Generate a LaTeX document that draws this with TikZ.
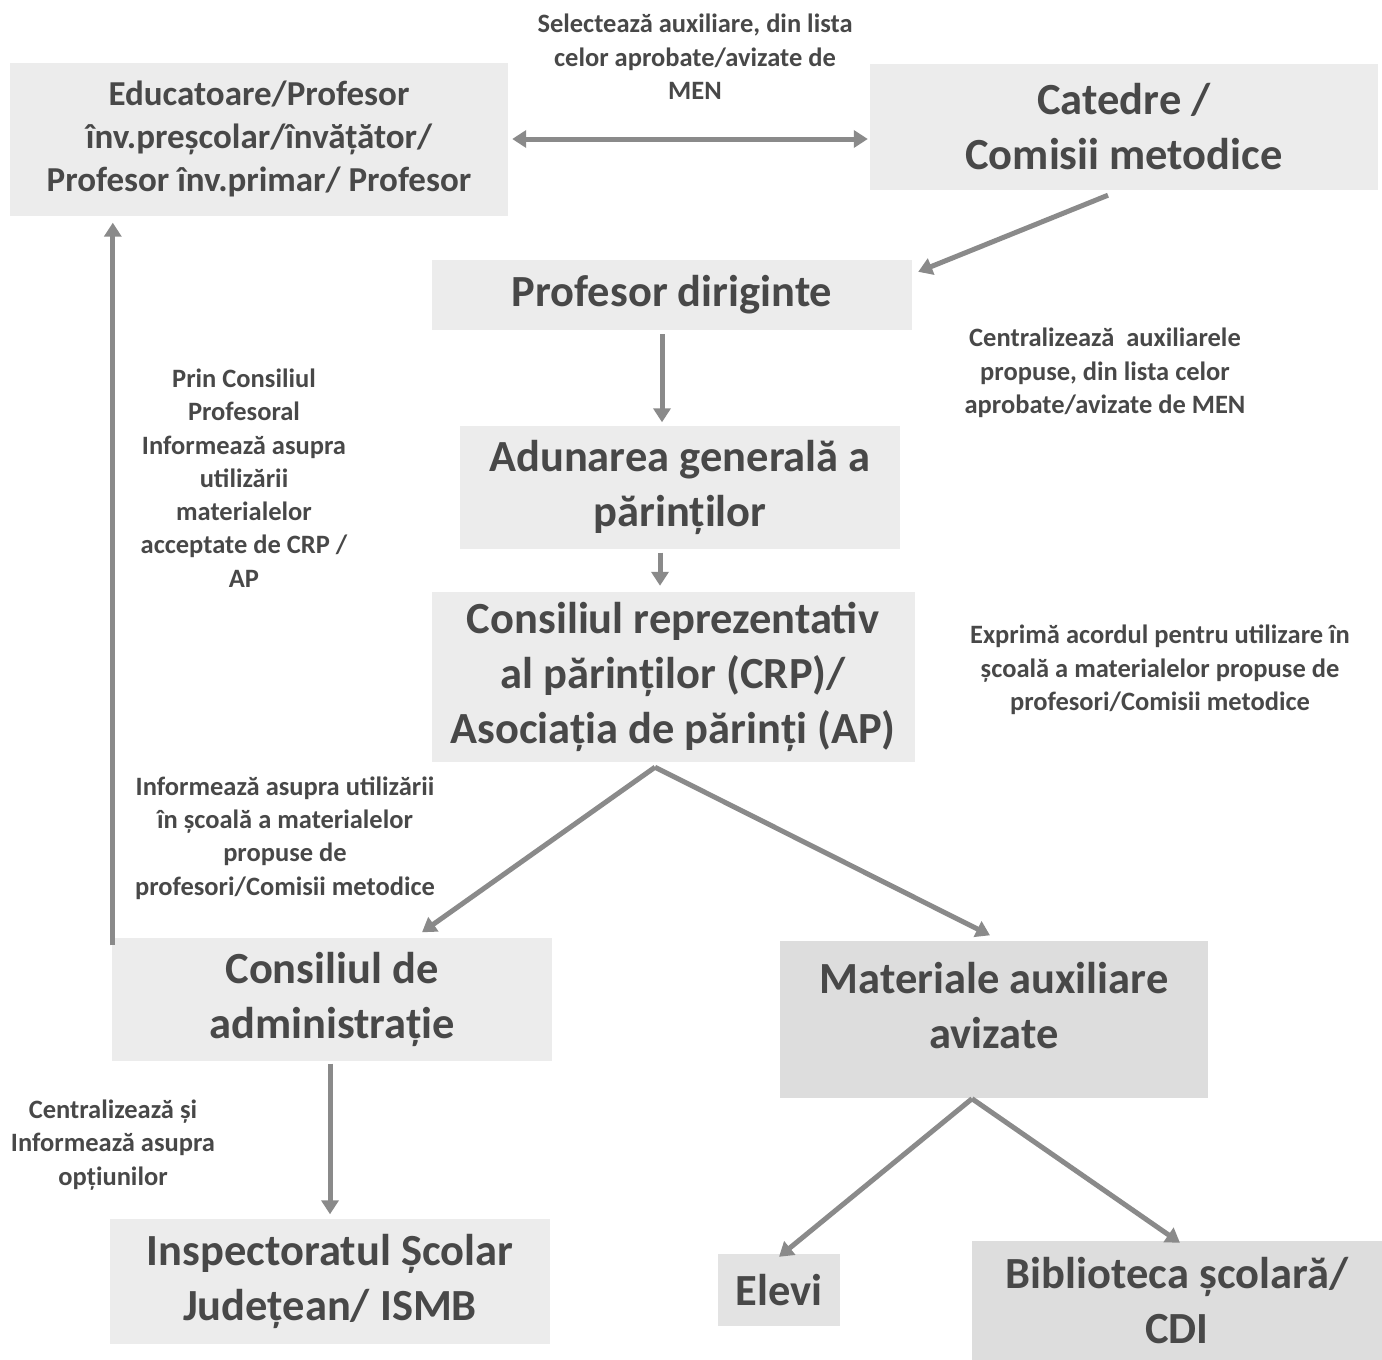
\documentclass[tikz,border=0pt]{standalone}
\usepackage{fontspec}
\setmainfont{Carlito}
\usepackage{tikz}
\usetikzlibrary{arrows.meta}
\definecolor{boxgray}{HTML}{ECECEC}
\definecolor{boxdark}{HTML}{DDDDDD}
\definecolor{textgray}{HTML}{484848}
\definecolor{arrowgray}{HTML}{8A8A8A}
\tikzset{
    box/.style = {rectangle, fill=boxgray, align=center, inner sep=0pt, text=textgray, font=\bfseries\fontsize{44.5}{55}\selectfont},
    boxd/.style = {box, fill=boxdark},
    boxs/.style = {box, font=\bfseries\fontsize{35}{43}\selectfont},
    note/.style = {align=center, inner sep=0pt, text=textgray, font=\bfseries\fontsize{26.5}{33.3}\selectfont},
    edgen/.style = {-{Triangle[length=14pt,width=17pt]}, line width=5pt, arrowgray},
    edged/.style = {{Triangle[length=14pt,width=17pt]}-{Triangle[length=14pt,width=17pt]}, line width=5pt, arrowgray}
}
\begin{document}
\begin{tikzpicture}[x=1pt,y=-1pt]
\useasboundingbox (0,0) rectangle (1382,1360);
%
\node[boxs, minimum width=498, minimum height=153] at (259, 139) (edu) {Educatoare/Profesor\\înv.preșcolar/învățător/\\Profesor înv.primar/ Profesor};
\node[box, minimum width=508, minimum height=126] at (1124, 127) (cat) {Catedre /\\Comisii metodice};
\node[box, minimum width=480, minimum height=70] at (672, 295) (dir) {Profesor diriginte};
\node[box, minimum width=440, minimum height=123] at (680, 487) (adun) {Adunarea generală a\\părinților};
\node[box, minimum width=483, minimum height=170] at (673, 677) (crp) {Consiliul reprezentativ\\al părinților (CRP)/\\Asociația de părinți (AP)};
\node[box, minimum width=440, minimum height=123] at (332, 999) (cadm) {Consiliul de\\administrație};
\node[boxd, minimum width=428, minimum height=157,
      label={[box, fill=none, yshift=13]center:{Materiale auxiliare\\avizate}}] at (994, 1019) (mat) {};
\node[box, minimum width=440, minimum height=125] at (330, 1281) (isj) {Inspectoratul Școlar\\Județean/ ISMB};
\node[box, fill=boxdark!60!boxgray, minimum width=122, minimum height=72] at (779, 1290) (elevi) {Elevi};
\node[boxd, minimum width=410, minimum height=120] at (1177, 1301) (bib) {Biblioteca școlară/\\CDI};
%
\node[note] at (695, 57) (sel) {Selectează auxiliare, din lista\\celor aprobate/avizate de\\MEN};
\node[note] at (1105, 373) (cent) {Centralizează\ \ auxiliarele\\propuse, din lista celor\\aprobate/avizate de MEN};
\node[note] at (244, 478) (prin) {Prin Consiliul\\Profesoral\\Informează asupra\\utilizării\\materialelor\\acceptate de CRP /\\AP};
\node[note] at (1160, 670) (expr) {Exprimă acordul pentru utilizare în\\școală a materialelor propuse de\\profesori/Comisii metodice};
\node[note] at (285, 838) (info) {Informează asupra utilizării\\în școală a materialelor\\propuse de\\profesori/Comisii metodice};
\node[note] at (113, 1145) (centsi) {Centralizează și\\Informează asupra\\opțiunilor};
%
\draw[edged] ([xshift=4]edu.east) -- ([xshift=-2]edu.east -| cat.west);
\draw[edgen] ([xshift=-16,yshift=-5]cat.south) -- ([xshift=6,yshift=-12]dir.north east);
\draw[edgen] ([xshift=-10,yshift=-4]dir.south) -- ([xshift=-18,yshift=3]adun.north);
\draw[edgen] ([xshift=-20,yshift=-4]adun.south) -- ([xshift=-13,yshift=6]crp.north);
\draw[edgen] ([xshift=-18,yshift=-5]crp.south) -- ([xshift=90,yshift=5]cadm.north);
\draw[edgen] ([xshift=-18,yshift=-5]crp.south) -- ([xshift=-4,yshift=5]mat.north);
\draw[edgen] ([xshift=1,yshift=-8]cadm.north west) -- ([xshift=103,yshift=-7]edu.south west);
\draw[edgen] ([xshift=-2,yshift=-3]cadm.south) -- ([yshift=4]isj.north);
\draw[edgen] ([xshift=-22,yshift=-1]mat.south) -- ([yshift=-3]elevi.north);
\draw[edgen] ([xshift=-22,yshift=-1]mat.south) -- ([xshift=3,yshift=-2]bib.north);
\end{tikzpicture}
\end{document}
